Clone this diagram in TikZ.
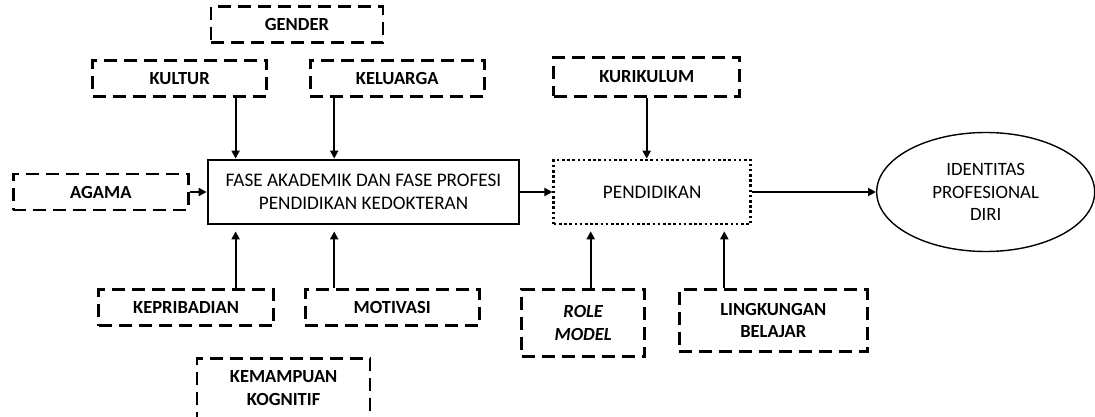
\documentclass[tikz,border=0pt]{standalone}
\usepackage{fontspec}
\setmainfont{Carlito}
\usepackage{tikz}
\usetikzlibrary{shapes.geometric, arrows.meta, positioning, calc}
\tikzset{
    baseblock/.style={rectangle, draw=black, align=center, font=\fontsize{19.2}{22.5}\selectfont, inner sep=4pt},
    factorblock/.style={baseblock, line width=2.6pt, dash pattern=on 13pt off 7pt, font=\fontsize{18.5}{22.5}\selectfont\bfseries, minimum height=36pt},
    phaseblock/.style={baseblock, line width=2.8pt, minimum height=64pt, minimum width=311pt},
    edublock/.style={baseblock, line width=2.6pt, dash pattern=on 2.6pt off 2.6pt, minimum height=64pt, minimum width=197pt},
    outcome/.style={ellipse, draw=black, line width=1.4pt, align=center, font=\fontsize{18.8}{22.5}\selectfont, minimum width=218pt, minimum height=119pt, inner sep=0pt},
    arrow/.style={line width=2pt, -{Triangle[length=8pt, width=8pt]}, color=black},
    uparrow/.style={arrow, shorten >=6pt}
}
\begin{document}
\begin{tikzpicture}[x=1pt, y=-1pt]
    \useasboundingbox (0,0) rectangle (1095,417);

    \node (main) [phaseblock] at (363.5,192) {FASE AKADEMIK DAN FASE PROFESI\\PENDIDIKAN KEDOKTERAN};
    \node (pend) [edublock, right=32pt of main] {PENDIDIKAN};
    \node (ident) [outcome, right=124pt of pend] {IDENTITAS\\PROFESIONAL\\DIRI};

    \node (agama) [factorblock, minimum width=175pt, left=17pt of main] {AGAMA};
    \node (kultur) [factorblock, minimum width=174pt, above=61pt of main.north west, xshift=-27pt] {KULTUR};
    \node (keluarga) [factorblock, minimum width=174pt, right=41pt of kultur] {KELUARGA};
    \node (gender) [factorblock, minimum width=172pt, above=15pt of $(kultur.north)!0.5!(keluarga.north)$, xshift=8.5pt] {GENDER};

    \node (kepribadian) [factorblock, minimum width=175pt, below=63pt of main.south west, xshift=-20.5pt] {KEPRIBADIAN};
    \node (motivasi) [factorblock, minimum width=174pt, right=29pt of kepribadian] {MOTIVASI};
    \node (kemampuan) [factorblock, minimum width=173pt, minimum height=60pt, below=30pt of $(kepribadian.south)!0.5!(motivasi.south)$, xshift=-5.5pt] {KEMAMPUAN\\KOGNITIF};

    \node (kurikulum) [factorblock, minimum width=186pt, minimum height=39pt, above right=61pt and 0pt of pend.north west] {KURIKULUM};
    \node (rolemodel) [factorblock, minimum width=123pt, minimum height=67pt, below right=63pt and -32pt of pend.south west] {\itshape ROLE\\\itshape MODEL};
    \node (lingkungan) [factorblock, minimum width=188pt, minimum height=62pt, below right=0pt and 32pt of rolemodel.north east] {LINGKUNGAN\\BELAJAR};

    \draw [arrow] ([xshift=56pt]kultur.south) -- ([xshift=56pt]kultur.south |- main.north);
    \draw [arrow] ([xshift=-63pt]keluarga.south) -- ([xshift=-63pt]keluarga.south |- main.north);
    \draw [arrow] (agama.east) -- (agama.east -| main.west);
    \draw [uparrow] ([xshift=49.5pt]kepribadian.north) -- ([xshift=49.5pt]kepribadian.north |- main.south);
    \draw [uparrow] ([xshift=-58pt]motivasi.north) -- ([xshift=-58pt]motivasi.north |- main.south);
    \draw [arrow] (main.east) -- (pend.west);
    \draw [arrow] (kurikulum.south) -- (kurikulum.south |- pend.north);
    \draw [uparrow] ([xshift=7.5pt]rolemodel.north) -- ([xshift=7.5pt]rolemodel.north |- pend.south);
    \draw [uparrow] ([xshift=-49pt]lingkungan.north) -- ([xshift=-49pt]lingkungan.north |- pend.south);
    \draw [arrow] (pend.east) -- (ident.west);
\end{tikzpicture}
\end{document}
